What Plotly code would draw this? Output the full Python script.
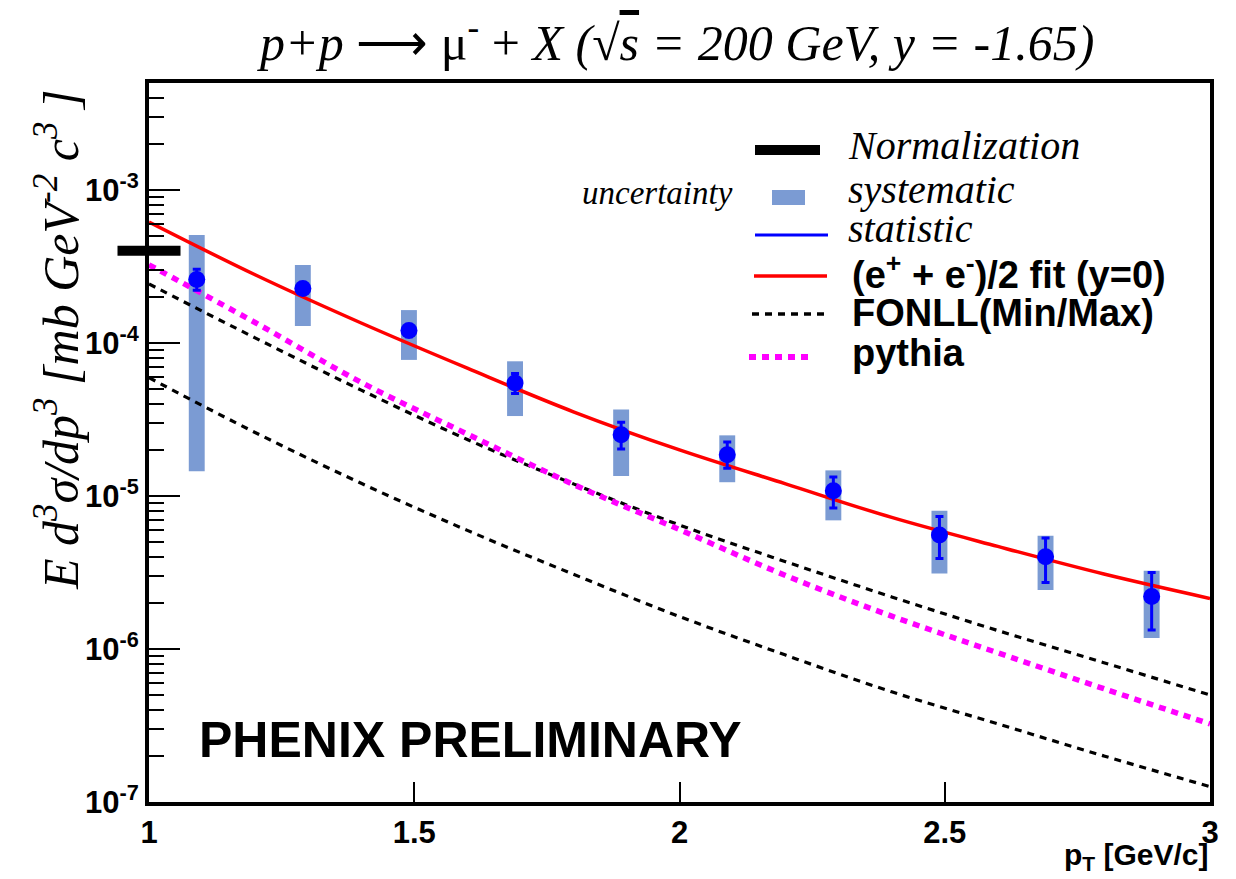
import numpy as np
import plotly.graph_objects as go

# ---------------- data ----------------
pt = [1.09, 1.29, 1.49, 1.69, 1.89, 2.09, 2.29, 2.49, 2.69, 2.89]
yield_val = [2.60e-4, 2.27e-4, 1.205e-4, 5.47e-5, 2.51e-5, 1.86e-5, 1.08e-5, 5.56e-6, 4.01e-6, 2.20e-6]
stat_hi = [3.03e-4, 2.45e-4, 1.32e-4, 6.31e-5, 3.03e-5, 2.25e-5, 1.33e-5, 7.33e-6, 5.32e-6, 3.16e-6]
stat_lo = [2.21e-4, 2.10e-4, 1.10e-4, 4.67e-5, 2.03e-5, 1.52e-5, 8.36e-6, 3.91e-6, 2.72e-6, 1.33e-6]
syst_hi = [5.07e-4, 3.23e-4, 1.64e-4, 7.59e-5, 3.68e-5, 2.49e-5, 1.47e-5, 8.02e-6, 5.50e-6, 3.24e-6]
syst_lo = [1.45e-5, 1.29e-4, 7.75e-5, 3.33e-5, 1.35e-5, 1.23e-5, 6.93e-6, 3.12e-6, 2.43e-6, 1.18e-6]

x_curve = [1.0, 1.2, 1.4, 1.6, 1.8, 2.0, 2.2, 2.4, 2.6, 2.8, 3.0]
fit_ee = [6.17e-4, 2.79e-4, 1.35e-4, 6.84e-5, 3.55e-5, 2.00e-5, 1.20e-5, 7.24e-6, 4.68e-6, 3.09e-6, 2.14e-6]
fonll_max = [2.43e-4, 1.08e-4, 4.92e-5, 2.34e-5, 1.20e-5, 6.46e-6, 3.72e-6, 2.19e-6, 1.32e-6, 8.13e-7, 5.01e-7]
fonll_min = [5.93e-5, 2.60e-5, 1.21e-5, 5.96e-6, 3.08e-6, 1.63e-6, 9.12e-7, 5.25e-7, 3.24e-7, 2.00e-7, 1.26e-7]
pythia = [3.24e-4, 1.36e-4, 5.53e-5, 2.54e-5, 1.19e-5, 6.03e-6, 3.02e-6, 1.64e-6, 9.44e-7, 5.50e-7, 3.24e-7]

norm_level = 4.0e-4

x_ticks = [1, 1.5, 2, 2.5, 3]
x_ticktext = ["1", "1.5", "2", "2.5", "3"]
y_ticks = [1e-7, 1e-6, 1e-5, 1e-4, 1e-3]
y_ticktext = ["10<sup>-7</sup>", "10<sup>-6</sup>", "10<sup>-5</sup>", "10<sup>-4</sup>", "10<sup>-3</sup>"]

# ---------------- figure ----------------
W, H = 1236, 879
L, R, T, B = 149, 26, 83, 77
pw, ph = W - L - R, H - T - B


def px(xpix):
    return (xpix - L) / pw


def py(ypix):
    return (H - B - ypix) / ph


SYST_COL = "#7b9bd3"
SANS = "Liberation Sans, Arial, sans-serif"
SERIF = "Liberation Serif, Times New Roman, serif"

fig = go.Figure()

syst_h = [h - l for h, l in zip(syst_hi, syst_lo)]
fig.add_trace(go.Bar(x=pt, y=syst_h, base=syst_lo, width=0.030,
                     marker=dict(color=SYST_COL, line=dict(width=0)),
                     showlegend=False, hoverinfo="skip"))

fig.add_trace(go.Scatter(x=x_curve, y=fonll_max, mode="lines", line_shape="spline",
                         line=dict(color="black", width=3.2, dash="7px,6px"), showlegend=False))
fig.add_trace(go.Scatter(x=x_curve, y=fonll_min, mode="lines", line_shape="spline",
                         line=dict(color="black", width=3.2, dash="7px,6px"), showlegend=False))
fig.add_trace(go.Scatter(x=x_curve, y=pythia, mode="lines", line_shape="spline",
                         line=dict(color="#ff00ff", width=5.5, dash="7px,6px"), showlegend=False))
fig.add_trace(go.Scatter(x=x_curve, y=fit_ee, mode="lines", line_shape="spline",
                         line=dict(color="#ff0000", width=3.5), showlegend=False))

err_p = [h - v for h, v in zip(stat_hi, yield_val)]
err_m = [v - l for v, l in zip(yield_val, stat_lo)]
fig.add_trace(go.Scatter(x=pt, y=yield_val, mode="markers",
                         marker=dict(color="#0000ff", size=17, line=dict(width=0)),
                         error_y=dict(type="data", symmetric=False, array=err_p, arrayminus=err_m,
                                      color="#0000ff", thickness=3, width=4),
                         showlegend=False))

# normalization uncertainty marker at the left edge
fig.add_trace(go.Scatter(x=[x_ticks[0]], y=[norm_level], mode="markers", cliponaxis=False,
                         marker=dict(symbol="line-ew", size=45, color="black",
                                     line=dict(width=10, color="black")),
                         showlegend=False))

minor_vals = [m * 10.0 ** e for e in range(-7, -2) for m in range(2, 10) if m * 10.0 ** e <= 5e-3]

fig.update_xaxes(range=[1, 3], tickvals=x_ticks,
                 ticktext=["<b>%s</b>" % t for t in x_ticktext],
                 ticks="inside", ticklen=20, tickwidth=1.5, tickcolor="black",
                 showline=True, linewidth=4, linecolor="black", mirror=True,
                 showgrid=False, zeroline=False,
                 tickfont=dict(family=SANS, size=31, color="black"))
fig.update_yaxes(type="log", range=[-7, np.log10(5e-3)], tickvals=y_ticks,
                 ticktext=["<b>%s</b>" % t for t in y_ticktext],
                 ticks="inside", ticklen=31, tickwidth=2, tickcolor="black",
                 minor=dict(tickvals=minor_vals, ticks="inside", ticklen=15, tickwidth=2,
                            tickcolor="black", showgrid=False),
                 showline=True, linewidth=4, linecolor="black", mirror=True,
                 showgrid=False, zeroline=False,
                 tickfont=dict(family=SANS, size=31, color="black"))

shapes = []
ann = []

# ---- manual legend ----
shapes.append(dict(type="line", xref="paper", yref="paper", x0=px(755), x1=px(820), y0=py(150), y1=py(150),
                   line=dict(color="black", width=10)))
shapes.append(dict(type="rect", xref="paper", yref="paper", x0=px(772), x1=px(805), y0=py(205), y1=py(190),
                   fillcolor=SYST_COL, line=dict(width=0)))
shapes.append(dict(type="line", xref="paper", yref="paper", x0=px(755), x1=px(828), y0=py(235), y1=py(235),
                   line=dict(color="#0000ff", width=3)))
shapes.append(dict(type="line", xref="paper", yref="paper", x0=px(754), x1=px(827), y0=py(276), y1=py(276),
                   line=dict(color="#ff0000", width=3.5)))
shapes.append(dict(type="line", xref="paper", yref="paper", x0=px(752), x1=px(824), y0=py(314), y1=py(314),
                   line=dict(color="black", width=3.5, dash="7px,6px")))
shapes.append(dict(type="line", xref="paper", yref="paper", x0=px(749), x1=px(813), y0=py(357), y1=py(357),
                   line=dict(color="#ff00ff", width=6, dash="7px,6px")))

leg_serif = [("Normalization", 145), ("systematic", 189), ("statistic", 228)]
for txt, yy in leg_serif:
    ann.append(dict(text="<i>%s</i>" % txt, x=px(846), y=py(yy), xref="paper", yref="paper",
                    xanchor="left", yanchor="middle", showarrow=False,
                    font=dict(family=SERIF, size=40, color="black")))
leg_sans = [("(e<sup>+</sup> + e<sup>-</sup>)/2 fit (y=0)", 272), ("FONLL(Min/Max)", 313), ("pythia", 353)]
for txt, yy in leg_sans:
    ann.append(dict(text="<b>%s</b>" % txt, x=px(850), y=py(yy), xref="paper", yref="paper",
                    xanchor="left", yanchor="middle", showarrow=False,
                    font=dict(family=SANS, size=38, color="black")))
ann.append(dict(text="<i>uncertainty</i>", x=px(735), y=py(193), xref="paper", yref="paper",
                xanchor="right", yanchor="middle", showarrow=False,
                font=dict(family=SERIF, size=33, color="black")))

# title
ann.append(dict(text="<i>p+p</i> ⟶ μ<sup>-</sup> + <i>X</i> <i>(</i>√<i><span style='text-decoration:overline'>s</span> = 200 GeV, y = -1.65)</i>",
                x=px(675), y=py(40), xref="paper", yref="paper", xanchor="center", yanchor="middle",
                showarrow=False, font=dict(family=SERIF, size=50, color="black")))
# y title
ann.append(dict(text="<i>E d<sup>3</sup>σ/dp<sup>3</sup> [mb GeV<sup>-2</sup> c<sup>3</sup> ]</i>",
                x=px(57), y=py(340), xref="paper", yref="paper", xanchor="center", yanchor="middle",
                textangle=-90, showarrow=False, font=dict(family=SERIF, size=50, color="black")))
# x title
ann.append(dict(text="<b>p<sub>T</sub> [GeV/c]</b>", x=px(1211), y=py(856), xref="paper", yref="paper",
                xanchor="right", yanchor="middle", showarrow=False,
                font=dict(family=SANS, size=30, color="black")))
# preliminary
ann.append(dict(text="<b>PHENIX PRELIMINARY</b>", x=px(197), y=py(740), xref="paper", yref="paper",
                xanchor="left", yanchor="middle", showarrow=False,
                font=dict(family=SANS, size=50, color="black")))

fig.update_layout(width=W, height=H, margin=dict(l=L, r=R, t=T, b=B),
                  paper_bgcolor="white", plot_bgcolor="white",
                  barmode="overlay", showlegend=False,
                  shapes=shapes, annotations=ann)

fig.write_html("out.html")
